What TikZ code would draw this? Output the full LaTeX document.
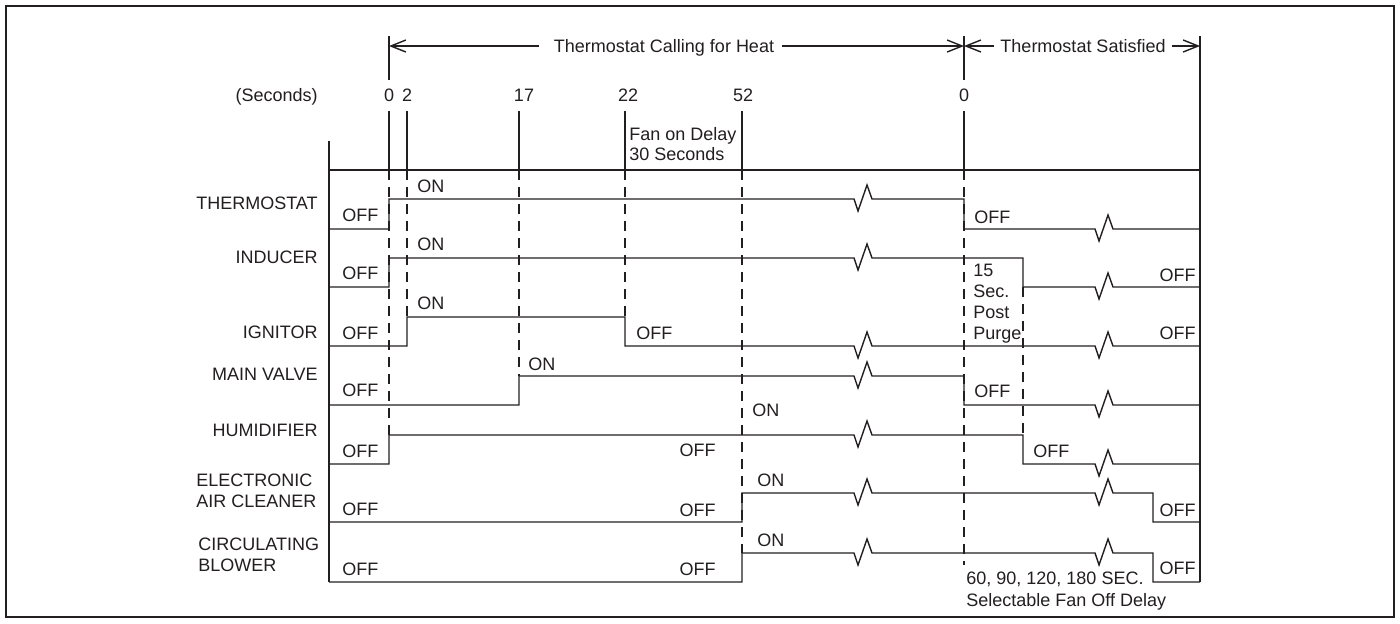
\documentclass[tikz,border=0pt]{standalone}
\usepackage{fontspec}
\setmainfont{Liberation Sans}
\usetikzlibrary{calc,arrows.meta,positioning}
\definecolor{inkgray}{HTML}{231F20}
% zigzag break on a level line: centre x, level y
\newcommand\zig[2]{-- ({#1-9},#2) -- ({#1-5},{#2+12}) -- ({#1+4},{#2-14}) -- ({#1+9},#2)}

\begin{document}
\begin{tikzpicture}[x=.5pt,y=-.5pt,>={Straight Barb[length=7.5pt,width=6pt]},
			every node/.style={font=\fontsize{9}{10}\selectfont,text=inkgray,inner sep=0pt},
			sig/.style={draw=inkgray,line width=.7pt,line join=miter},
			guide/.style={draw=inkgray,line width=.7pt,dash pattern=on 5pt off 3.5pt},
			lbl/.style={anchor=base west},
			rlbl/.style={anchor=base east}]
			\useasboundingbox[fill=white] (0,0) rectangle (1400,623);
			\draw[inkgray,line width=1.3pt] (6,6) rectangle (1394,617);
			% headings
			\coordinate (hl) at (389,46);
			\coordinate (hm) at (964,46);
			\coordinate (hr) at (1200,46);
			\node[anchor=base] (calltxt) at (664,52.5) {Thermostat Calling for Heat};
			\node[anchor=base] (sattxt) at (1083,52.5) {Thermostat Satisfied};
			\draw[sig,->] ($(calltxt.west|-hl)+(-15,0)$) -- (hl);
			\draw[sig,->] ($(calltxt.east|-hm)+(8,0)$) -- (hm);
			\draw[sig,->] ($(sattxt.west|-hm)+(-6,0)$) -- (hm);
			\draw[sig,->] ($(sattxt.east|-hr)+(6,0)$) -- (hr);
			% frame of the chart
			\draw[sig] (329,141) -- (329,582);
			\draw[sig] (329,170) -- (1200,170);
			\draw[sig] (1200,36) -- (1200,582);
			\draw[sig] (389,36) -- (389,80);
			\draw[sig] (964,36) -- (964,80);
			% time marks
			\node[anchor=base east] (secs) at (318,101) {(Seconds)};
			\foreach \x/\t [count=\i] in {389/0,407/2,524/17,628/22,743/52,964/0}
			{\node[anchor=base] (tick\i) at (\x,101) {\t};}
			\foreach \x/\y in {389/435,407/317,519/376,625/317,742/553,964/565}
			{\draw[sig] (\x,111) -- (\x,170); \draw[guide] (\x,170) -- (\x,\y);}
			\draw[guide] (1023,287) -- (1023,435);
			\node[lbl] (fan1) at (629,140) {Fan on Delay};
			\node[lbl] (fan2) at (629,160) {30 Seconds};
			% signals
			\draw[sig] (329,229) -- (389,229) -- (389,199) \zig{863}{199} -- (964,199) -- (964,229) \zig{1104}{229} -- (1200,229);
			\draw[sig] (329,287) -- (389,287) -- (389,258) \zig{863}{258} -- (1023,258) -- (1023,287) \zig{1104}{287} -- (1200,287);
			\draw[sig] (329,346) -- (407,346) -- (407,317) -- (625,317) -- (625,346) \zig{863}{346} \zig{1104}{346} -- (1200,346);
			\draw[sig] (329,405) -- (519,405) -- (519,376) \zig{863}{376} -- (964,376) -- (964,405) \zig{1104}{405} -- (1200,405);
			\draw[sig] (329,464) -- (389,464) -- (389,435) \zig{863}{435} -- (1023,435) -- (1023,464) \zig{1104}{464} -- (1200,464);
			\draw[sig] (329,522) -- (742,522) -- (742,493) \zig{863}{493} \zig{1104}{493} -- (1153,493) -- (1153,522) -- (1200,522);
			\draw[sig] (329,582) -- (742,582) -- (742,553) \zig{863}{553} \zig{1104}{553} -- (1153,553) -- (1153,582) -- (1200,582);
			% row names
			\foreach \nm/\y/\t in {therm/209/THERMOSTAT,ind/263.5/INDUCER,ign/338.5/IGNITOR,mv/380/MAIN VALVE,hum/436.5/HUMIDIFIER}
			{\node[rlbl] (\nm) at (318,\y) {\t};}
			\node[lbl] (eac1) at (196,486.7) {ELECTRONIC};
			\node[lbl] (eac2) at (196,507.7) {AIR CLEANER};
			\node[lbl] (blw1) at (198,550.7) {CIRCULATING};
			\node[lbl] (blw2) at (198,571.7) {BLOWER};
			% state labels
			\foreach \y [count=\i] in {221.7,279,339.3,396.7,457.3,515.7,575}
			{\node[lbl] (off\i) at (342,\y) {OFF};}
			\foreach \x/\y [count=\i] in {417/192.3,417/250,417/309.3,528/370,752/416,757/486.7,757/546}
			{\node[lbl] (on\i) at (\x,\y) {ON};}
			\foreach \x/\y [count=\i] in {636/339.3,974/223,974/397,1033/457.3}
			{\node[lbl] (offa\i) at (\x,\y) {OFF};}
			\foreach \y [count=\i] in {281.7,339.3,516,574}
			{\node[rlbl] (offr\i) at (1196,\y) {OFF};}
			\foreach \y [count=\i] in {456.7,516.7,575}
			{\node[rlbl] (offm\i) at (716,\y) {OFF};}
			% notes
			\foreach \y/\t [count=\i] in {276.5/15,297.5/Sec.,318.5/Post,339.5/Purge}
			{\node[lbl] (purge\i) at (973,\y) {\t};}
			\node[lbl] (delay1) at (966,584) {60, 90, 120, 180 SEC.};
			\node[lbl] (delay2) at (966,606.7) {Selectable Fan Off Delay};
		\end{tikzpicture}
\end{document}
